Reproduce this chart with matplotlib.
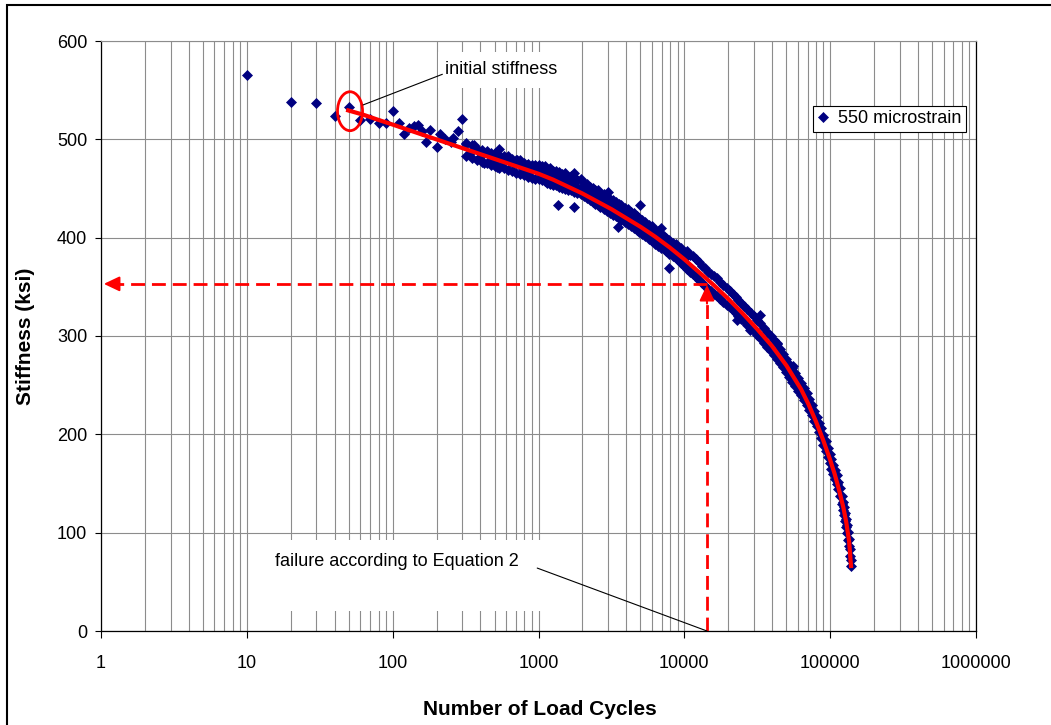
import matplotlib
matplotlib.use('Agg')
from matplotlib import pyplot as plt
from matplotlib.patches import Ellipse, Rectangle
from matplotlib.ticker import LogLocator, FixedLocator, NullFormatter
import numpy as np

plt.rcParams['font.family'] = ['Liberation Sans', 'DejaVu Sans']

# measured stiffness, 550 microstrain (early cycles)
cycles_early = [10, 20, 30, 40, 50, 60, 70, 80, 90, 100, 110, 120, 130, 140, 150,
                160, 170, 180, 200, 210, 230, 250, 260, 280, 300, 320, 340, 360,
                380, 400, 420, 450, 480, 500, 520, 540, 560, 600, 640, 680, 710,
                750, 780, 830, 870, 900, 950]
stiff_early = [565, 538, 537, 524, 533, 520, 521, 517, 517, 529, 517, 505, 512, 514, 515,
               508, 497, 509, 492, 505, 500, 497, 501, 508, 521, 496, 486, 494,
               490, 482, 476, 486, 481, 478, 472, 490, 478, 481, 477, 475, 479,
               479, 470, 474, 468, 471, 474]

# 300 - 1000 cycles, band edges
cycles_band = [320, 350, 380, 410, 440, 470, 500, 540, 580, 620, 660, 700, 750, 800,
               850, 900, 950]
stiff_band_hi = [495, 494, 490, 489, 488, 486, 486, 484, 483, 483, 480, 479, 477, 476,
                 475, 474, 473]
stiff_band_lo = [483, 481, 479, 477, 476, 474, 473, 471, 471, 469, 468, 466, 465, 464,
                 462, 461, 460]

# 1000 - 10000 cycles (upper edge, middle and lower edge of the band)
cycles_mid = [1000, 1050, 1100, 1150, 1200, 1260, 1320, 1380, 1450, 1520, 1600, 1680,
              1760, 1850, 1950, 2050, 2150, 2250, 2350, 2450, 2550, 2650, 2800, 2950,
              3100, 3250, 3400, 3550, 3700, 3900, 4100, 4300, 4500, 4700, 4900, 5100,
              5400, 5700, 6000, 6300, 6600, 6900, 7200, 7500, 7900, 8300, 8700, 9100,
              9500, 10000]
stiff_mid_hi = [474, 473, 473, 470, 471, 468, 468, 467, 465, 466, 462, 463,
                462, 459, 460, 456, 455, 452, 451, 448, 448, 445, 444, 441,
                439, 438, 436, 434, 433, 430, 429, 426, 425, 422, 420, 418,
                416, 413, 412, 408, 407, 404, 402, 400, 398, 395, 394, 391,
                389, 385]
stiff_mid_c = [467, 466, 465, 463, 462, 461, 461, 459, 458, 457, 455, 455,
               453, 452, 451, 449, 447, 445, 443, 441, 440, 438, 436, 434,
               432, 430, 429, 427, 425, 423, 421, 419, 417, 415, 413, 411,
               409, 406, 404, 401, 399, 397, 395, 393, 390, 388, 386, 384,
               381, 378]
stiff_mid_lo = [460, 459, 458, 456, 455, 454, 454, 452, 451, 450, 448, 448,
                446, 445, 444, 442, 440, 438, 436, 434, 433, 431, 429, 427,
                425, 423, 422, 420, 418, 416, 414, 412, 410, 408, 406, 404,
                402, 399, 397, 394, 392, 390, 388, 386, 383, 381, 379, 377,
                374, 371]

# 10000 cycles to failure of the specimen
cycles_late = [10500, 11000, 11500, 12000, 12600, 13200, 13800, 14500, 15200, 16000,
               16800, 17600, 18500, 19500, 20500, 21500, 22500, 23500, 24500, 25500,
               27000, 28500, 30000, 31500, 33000, 35000, 37000, 39000, 41000, 43000,
               45000, 47500, 50000, 52500, 55000, 57500, 60000, 63000, 66000, 69000,
               72000, 75000, 78000, 81000, 84000, 87000, 90000, 93000, 96000, 99000,
               102000, 105000, 108000, 111000, 114000, 117000, 120000, 122000, 124000,
               126000, 128000, 130000, 132000, 134000, 136000, 138000]
stiff_late_hi = [386, 382, 381, 378, 375, 371, 369, 365, 363, 361,
                 359, 355, 352, 349, 346, 343, 340, 337, 334, 331,
                 327, 323, 320, 316, 313, 308, 304, 300, 296, 292,
                 287, 282, 277, 272, 267, 262, 257, 252, 247, 242,
                 236, 230, 224, 218, 212, 206, 199, 193, 186, 180,
                 175, 169, 164, 159, 152, 145, 137, 131, 126,
                 120, 114, 108, 101, 94, 83, 72]
stiff_late_lo = [368, 365, 363, 360, 357, 354, 351, 348, 346, 343,
                 341, 338, 335, 332, 329, 326, 323, 320, 317, 315,
                 311, 308, 305, 301, 298, 293, 289, 285, 281, 277,
                 273, 268, 263, 258, 253, 249, 244, 240, 235, 230,
                 225, 220, 214, 208, 202, 196, 189, 183, 177, 171,
                 165, 160, 155, 150, 144, 137, 129, 123, 118,
                 112, 106, 100, 93, 86, 76, 66]

# scattered readings off the band
cycles_out = [1350, 1740, 3500, 5000, 7900, 23000, 33000, 28000, 43000, 56000, 2150,
              1760, 3000, 6900]
stiff_out = [433, 431, 411, 433, 369, 316, 321, 306, 293, 269, 451,
             466, 446, 410]

# fitted trend line
trend_cycles = [48, 63, 79, 100, 158, 251, 398, 631, 1000, 1260, 1585, 1995, 2512,
                3162, 3981, 5012, 6310, 7943, 10000, 12590, 15850, 19950, 25120,
                31620, 39810, 50120, 63100, 70800, 79430, 89130, 100000, 107200,
                114800, 123000, 128800, 134900, 139300]
trend_stiff = [530, 525, 520, 515, 505, 495, 485, 475, 465, 459, 452, 445, 437,
               429, 420, 411, 401, 390, 378, 365, 352, 338, 323,
               307, 290, 270, 246, 231, 214, 195, 174, 160,
               144, 126, 111, 91, 64]

# failure point according to Equation 2
fail_cycles = 14300
fail_stiff = 353

cycles = (cycles_early + cycles_band * 2 + cycles_mid * 3 + cycles_late * 2 + cycles_out)
stiff = (stiff_early + stiff_band_hi + stiff_band_lo + stiff_mid_hi + stiff_mid_c
         + stiff_mid_lo + stiff_late_hi + stiff_late_lo + stiff_out)

fig = plt.figure(figsize=(10.51, 7.25), dpi=100)
ax = fig.add_axes([101 / 1051, 94 / 725, 875 / 1051, 590 / 725])

# outer frame of the chart area
fig.patches.append(Rectangle((7 / 1051, -0.1), 1.2, 0.1 + (1 - 5 / 725), transform=fig.transFigure,
                             fill=False, edgecolor='black', lw=1.5, zorder=0))

ax.set_xscale('log')
ax.set_xlim(1, 1000000)
ax.set_ylim(0, 600)

ax.xaxis.set_major_locator(FixedLocator([1, 10, 100, 1000, 10000, 100000, 1000000]))
ax.xaxis.set_minor_locator(LogLocator(base=10, subs=np.arange(2, 10)))
ax.xaxis.set_minor_formatter(NullFormatter())
ax.set_xticklabels(['1', '10', '100', '1000', '10000', '100000', '1000000'])
ax.set_yticks([0, 100, 200, 300, 400, 500, 600])

ax.grid(True, which='major', axis='both', color='#8c8c8c', lw=0.8, zorder=0)
ax.grid(True, which='minor', axis='x', color='#8c8c8c', lw=0.8, zorder=0)
ax.set_axisbelow(True)

ax.tick_params(axis='x', which='major', length=5, width=0.8, pad=12, labelsize=13)
ax.tick_params(axis='x', which='minor', length=0)
ax.tick_params(axis='y', which='major', length=4, width=0.8, pad=6, labelsize=13)
for s in ['left', 'bottom', 'right']:
    ax.spines[s].set_color('black')
    ax.spines[s].set_linewidth(0.9)
ax.spines['top'].set_color('#8c8c8c')
ax.spines['top'].set_linewidth(0.8)

# white boxes behind the annotation texts
ax.add_patch(Rectangle(((255 - 101) / 875, (631 - 611) / 590), (565 - 255) / 875, (611 - 540) / 590,
                       transform=ax.transAxes, facecolor='white', edgecolor='none', zorder=1))
ax.add_patch(Rectangle(((438 - 101) / 875, (631 - 88) / 590), (568 - 438) / 875, (88 - 52) / 590,
                       transform=ax.transAxes, facecolor='white', edgecolor='none', zorder=1))

ax.plot(cycles, stiff, 'D', ms=4.8, color='#000080', mec='#000080', mew=0.5,
        linestyle='none', label='550 microstrain', zorder=3)
ax.plot(trend_cycles, trend_stiff, color='red', lw=3, solid_capstyle='butt',
        solid_joinstyle='round', zorder=4)

# dashed guide lines to the failure point
hl, = ax.plot([fail_cycles, 1.1], [fail_stiff, fail_stiff], color='red', lw=2, zorder=5)
hl.set_dashes((5, 2.5))
vl, = ax.plot([fail_cycles, fail_cycles], [0, fail_stiff - 8], color='red', lw=2, zorder=5)
vl.set_dashes((5, 2.5))
head = '-|>,head_length=0.95,head_width=0.45'
ax.annotate('', xy=(1.045, fail_stiff), xytext=(1.3, fail_stiff),
            arrowprops=dict(arrowstyle=head, color='red', lw=1.5, shrinkA=0, shrinkB=0,
                            mutation_scale=10), zorder=6)
ax.annotate('', xy=(fail_cycles, fail_stiff - 1), xytext=(fail_cycles, fail_stiff - 20),
            arrowprops=dict(arrowstyle=head, color='red', lw=1.5, shrinkA=0, shrinkB=0,
                            mutation_scale=10), zorder=6)

# initial stiffness marker
ax.add_patch(Ellipse((0.2846, 0.881), 0.0286, 0.066, transform=ax.transAxes,
                     fill=False, edgecolor='red', lw=2, zorder=6))

ax.annotate('initial stiffness', xy=(62.7, 535), xytext=(229, 570.7),
            fontsize=13, va='center', ha='left',
            arrowprops=dict(arrowstyle='-', color='black', lw=0.8, shrinkA=0, shrinkB=0,
                            relpos=(0, 0.3)), zorder=7)
ax.text(15.6, 70.2, 'failure according to Equation 2', fontsize=13, va='center', ha='left',
        zorder=7)
ax.annotate('', xy=(fail_cycles, 0), xytext=(980, 64),
            arrowprops=dict(arrowstyle='-', color='black', lw=0.8, shrinkA=0, shrinkB=0),
            zorder=7)

leg = ax.legend(loc='center', bbox_to_anchor=(0.901, 0.8686), fontsize=13, numpoints=1,
                frameon=True, fancybox=False, framealpha=1, edgecolor='black',
                handlelength=0.6, handletextpad=0.5, borderpad=0.25, borderaxespad=0)
leg.get_frame().set_linewidth(0.8)

ax.set_xlabel('Number of Load Cycles', fontsize=15, fontweight='bold')
ax.xaxis.set_label_coords(0.502, -0.117)
ax.set_ylabel('Stiffness (ksi)', fontsize=15, fontweight='bold')
ax.yaxis.set_label_coords(-0.0754, 0.5)

plt.savefig('out.png', dpi=100)
